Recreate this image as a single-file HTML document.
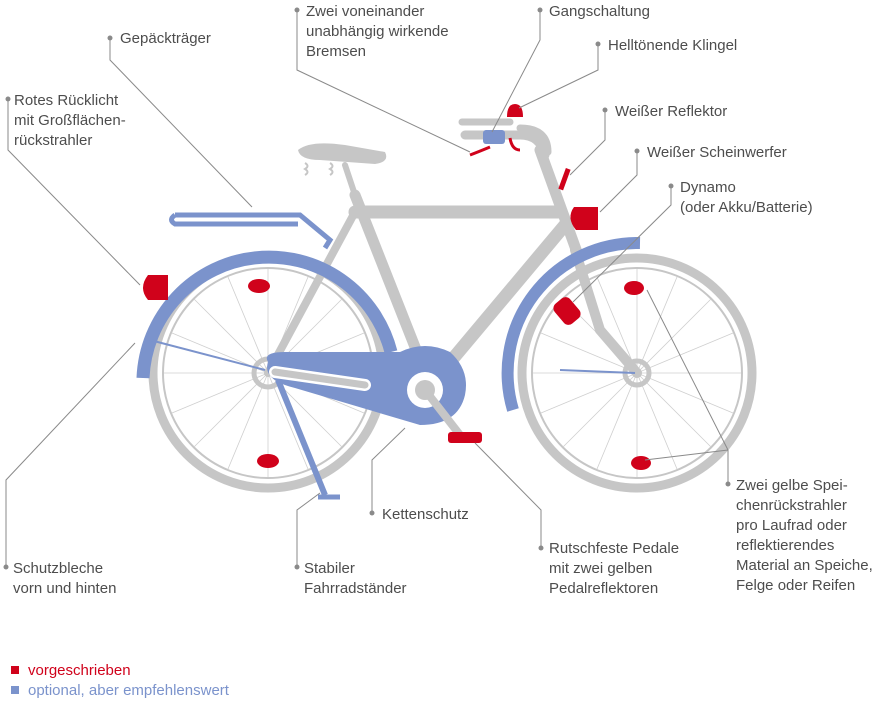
<!DOCTYPE html>
<html><head><meta charset="utf-8"><style>
body{margin:0;background:#fff;width:885px;height:702px;overflow:hidden}
svg{display:block}
text{font-family:"Liberation Sans",sans-serif;font-size:15px;fill:#4d4d4d}
</style></head><body>
<svg width="885" height="702" viewBox="0 0 885 702">
<g fill="none" stroke="#c6c6c6">
 <circle cx="268" cy="373" r="115" stroke-width="9"/>
 <circle cx="637" cy="373" r="115" stroke-width="9"/>
 <circle cx="268" cy="373" r="105" stroke-width="2"/>
 <circle cx="637" cy="373" r="105" stroke-width="2"/>
</g>
<g stroke="#cfcfcf" stroke-width="0.8" id="sp">
 <line x1="164" y1="373" x2="372" y2="373"/><line x1="268" y1="269" x2="268" y2="477"/>
 <line x1="194" y1="299" x2="342" y2="447"/><line x1="342" y1="299" x2="194" y2="447"/>
 <line x1="172" y1="333" x2="364" y2="413"/><line x1="172" y1="413" x2="364" y2="333"/>
 <line x1="228" y1="277" x2="308" y2="469"/><line x1="308" y1="277" x2="228" y2="469"/>
</g>
<use href="#sp" transform="translate(369,0)"/>
<g fill="none" stroke="#c6c6c6" stroke-linecap="round">
 <circle cx="268" cy="373" r="14" stroke-width="5"/>
 <circle cx="637" cy="373" r="12" stroke-width="5"/>
 <line x1="355" y1="195" x2="430" y2="385" stroke-width="11"/>
 <line x1="355" y1="212" x2="560" y2="212" stroke-width="13"/>
 <line x1="565" y1="225" x2="435" y2="380" stroke-width="13"/>
 <line x1="355" y1="212" x2="268" y2="373" stroke-width="8"/>
 <line x1="540" y1="150" x2="578" y2="255" stroke-width="11"/>
 <path d="M575 250 L600 330 L637 373" stroke-width="10"/>
 <line x1="355" y1="195" x2="345" y2="165" stroke-width="6"/>
 <path d="M465 135 H520 Q540 135 545 155" stroke-width="9"/>
 <path d="M462 122 H510" stroke-width="7"/>
 <path d="M520 128 Q548 128 548 152" stroke-width="7"/>
</g>
<path d="M298 150 Q310 140 345 145 L385 152 Q390 162 375 164 L320 160 Q300 160 298 150Z" fill="#c6c6c6"/>
<path d="M305 163 q5 3 0 6 q5 3 0 6 M330 163 q5 3 0 6 q5 3 0 6" stroke="#c6c6c6" stroke-width="2" fill="none"/>
<g fill="none" stroke="#7b93cc" stroke-linecap="butt">
 <path d="M143 378 A126 126 0 0 1 391 352" stroke-width="13"/>
 <path d="M640 243 A130 130 0 0 0 513 410" stroke-width="12"/>
 <path d="M175 215 H300 L330 240 L325 248 M175 215 Q168 220 175 224 H298" stroke-width="5"/>
 <line x1="278" y1="380" x2="325" y2="495" stroke-width="6"/>
 <line x1="318" y1="497" x2="340" y2="497" stroke-width="5"/>
 <line x1="150" y1="340" x2="265" y2="370" stroke-width="2"/>
 <line x1="560" y1="370" x2="635" y2="373" stroke-width="2"/>
</g>
<path d="M268 362 Q262 352 285 352 L400 352 Q425 340 450 352 Q470 370 465 395 Q458 425 420 425 L295 388 Q262 380 268 362Z" fill="#7b93cc"/>
<line x1="275" y1="372" x2="365" y2="385" stroke="#fff" stroke-width="12" stroke-linecap="round"/>
<line x1="275" y1="372" x2="365" y2="385" stroke="#c6c6c6" stroke-width="7" stroke-linecap="round"/>
<circle cx="425" cy="390" r="18" fill="#fff"/>
<circle cx="425" cy="390" r="10" fill="#c6c6c6"/>
<line x1="425" y1="390" x2="460" y2="435" stroke="#c6c6c6" stroke-width="8"/>
<g fill="#d0021b">
 <path d="M148 275 H168 V300 H148 Q138 288 148 275Z"/>
 <path d="M574 207 H598 V230 H576 Q566 218 574 207Z"/>
 <ellipse cx="259" cy="286" rx="11" ry="7"/>
 <ellipse cx="268" cy="461" rx="11" ry="7"/>
 <ellipse cx="634" cy="288" rx="10" ry="7"/>
 <ellipse cx="641" cy="463" rx="10" ry="7"/>
 <rect x="557" y="298" width="20" height="26" rx="6" transform="rotate(-40 567 311)"/>
 <rect x="448" y="432" width="34" height="11" rx="3"/>
 <path d="M507 117 Q507 104 515 104 Q523 104 523 117Z"/>
 <rect x="562" y="168" width="5" height="22" transform="rotate(20 564 179)"/>
</g>
<path d="M470 155 Q478 152 490 147 M510 138 Q512 150 520 150" stroke="#d0021b" stroke-width="3" fill="none"/>
<rect x="483" y="130" width="22" height="14" rx="3" fill="#7b93cc"/>
<g stroke="#8a8a8a" stroke-width="1" fill="none">
 <path d="M110 38 V60 L252 207"/>
 <path d="M8 99 V150 L140 285"/>
 <path d="M297 10 V70 L470 152"/>
 <path d="M540 10 V40 L492 132"/>
 <path d="M598 44 V70 L519 108"/>
 <path d="M605 110 V140 L570 175"/>
 <path d="M637 151 V175 L600 212"/>
 <path d="M671 186 V205 L573 302"/>
 <path d="M728 484 V450 L647 290 M728 450 L645 460"/>
 <path d="M297 567 V510 L320 493"/>
 <path d="M372 513 V460 L405 428"/>
 <path d="M541 548 V510 L475 443"/>
 <path d="M6 567 V480 L135 343"/>
</g>
<g fill="#8a8a8a">
 <circle cx="110" cy="38" r="2.5"/><circle cx="8" cy="99" r="2.5"/><circle cx="297" cy="10" r="2.5"/>
 <circle cx="540" cy="10" r="2.5"/><circle cx="598" cy="44" r="2.5"/><circle cx="605" cy="110" r="2.5"/>
 <circle cx="637" cy="151" r="2.5"/><circle cx="671" cy="186" r="2.5"/><circle cx="728" cy="484" r="2.5"/>
 <circle cx="297" cy="567" r="2.5"/><circle cx="372" cy="513" r="2.5"/><circle cx="541" cy="548" r="2.5"/>
 <circle cx="6" cy="567" r="2.5"/>
</g>
<text x="120" y="43">Gepäckträger</text>
<text x="14" y="105">Rotes Rücklicht</text>
<text x="14" y="125">mit Großflächen-</text>
<text x="14" y="145">rückstrahler</text>
<text x="306" y="16">Zwei voneinander</text>
<text x="306" y="36">unabhängig wirkende</text>
<text x="306" y="56">Bremsen</text>
<text x="549" y="16">Gangschaltung</text>
<text x="608" y="50">Helltönende Klingel</text>
<text x="615" y="116">Weißer Reflektor</text>
<text x="647" y="157">Weißer Scheinwerfer</text>
<text x="680" y="192">Dynamo</text>
<text x="680" y="212">(oder Akku/Batterie)</text>
<text x="736" y="490">Zwei gelbe Spei-</text>
<text x="736" y="510">chenrückstrahler</text>
<text x="736" y="530">pro Laufrad oder</text>
<text x="736" y="550">reflektierendes</text>
<text x="736" y="570">Material an Speiche,</text>
<text x="736" y="590">Felge oder Reifen</text>
<text x="382" y="519">Kettenschutz</text>
<text x="549" y="553">Rutschfeste Pedale</text>
<text x="549" y="573">mit zwei gelben</text>
<text x="549" y="593">Pedalreflektoren</text>
<text x="304" y="573">Stabiler</text>
<text x="304" y="593">Fahrradständer</text>
<text x="13" y="573">Schutzbleche</text>
<text x="13" y="593">vorn und hinten</text>
<rect x="11" y="666" width="8" height="8" fill="#d0021b"/>
<text x="28" y="675" style="fill:#d0021b">vorgeschrieben</text>
<rect x="11" y="686" width="8" height="8" fill="#7b93cc"/>
<text x="28" y="695" style="fill:#7b93cc">optional, aber empfehlenswert</text>
</svg>
</body></html>
